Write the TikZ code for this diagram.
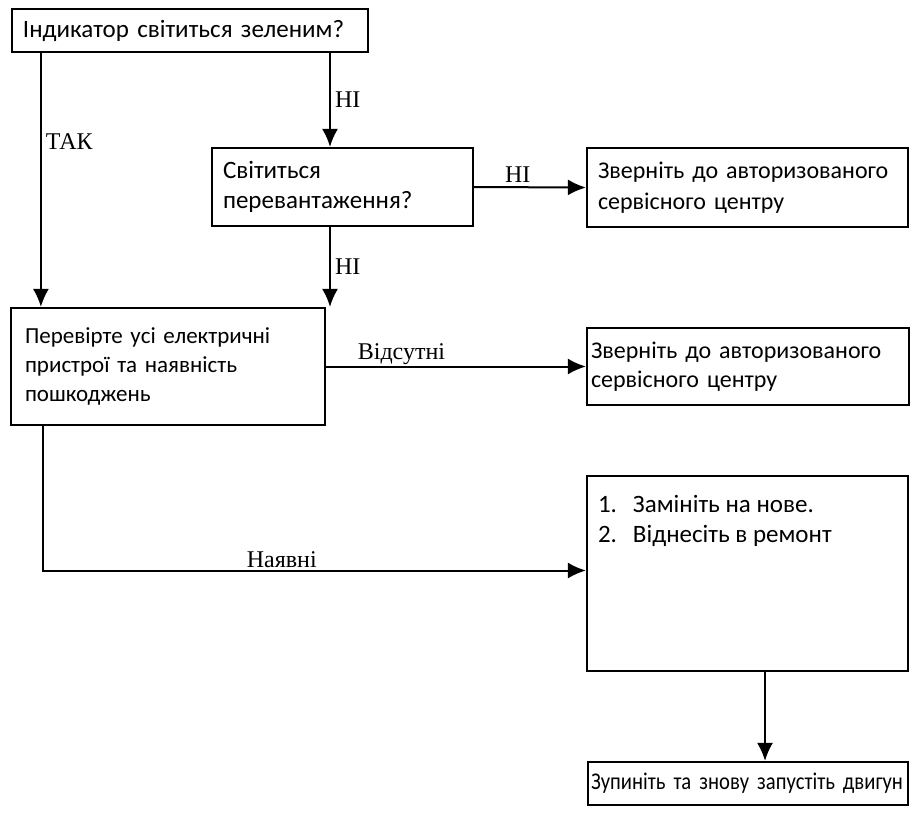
\documentclass[tikz,border=0pt]{standalone}
\usepackage{fontspec}
\setmainfont{Carlito}
\newfontfamily\labelfont{Liberation Serif}
\newfontfamily\narrowfont{Carlito}[FakeStretch=0.86]
\newfontfamily\chkfont{Carlito}[WordSpace=0.6]
\usepackage{tikz}
\usetikzlibrary{arrows.meta}
\tikzstyle{box} = [rectangle, draw=black, line width=2.2pt, inner xsep=11pt, align=left, font=\fontsize{25}{30}\selectfont]
\tikzstyle{lbl} = [font=\labelfont\fontsize{24}{28}\selectfont, inner sep=2pt]
\tikzstyle{arrow} = [line width=2pt,-{Latex[length=18pt,width=16pt]}]
\newlength\chkw

\begin{document}
\begin{tikzpicture}[x=1pt,y=1pt]
\useasboundingbox (0,0) rectangle (911,-815);

\node(ind)[box,text width=334pt,minimum height=43pt] at (190,-30.5) {Індикатор світиться зеленим?};
\node(over)[box,text width=239pt,minimum height=78pt] at (342.5,-187) {Світиться\\перевантаження?};
\node(svc1)[box,font=\fontsize{24}{31}\selectfont,text width=299pt,minimum height=79pt] at (747.5,-187.5) {Зверніть до авторизованого\\сервісного центру};
\node(check)[box,font=\chkfont\fontsize{23}{29}\selectfont,inner xsep=14pt,text width=286pt,minimum height=117pt] at (168,-366.5) {\settowidth{\chkw}{Перевірте усі електричні}Перевірте усі електричні\\\makebox[\chkw][s]{пристрої та наявність}\\пошкоджень};
\node(svc2)[box,font=\fontsize{24}{29}\selectfont,inner xsep=4pt,text width=314pt,minimum height=77pt] at (748,-366.5) {Зверніть до авторизованого\\сервісного центру};
\node(fix)[box,inner ysep=10pt] at (747.5,-573.5) {\parbox[c][175pt][t]{299pt}{\vspace*{9pt}\makebox[35pt][l]{1.}Замініть на нове.\\\makebox[35pt][l]{2.}Віднесіть в ремонт}};
\node(stop)[box,font=\narrowfont\fontsize{24}{30}\selectfont,inner xsep=3pt,text width=314pt,minimum height=43pt] at (748,-783.5) {Зупиніть та знову запустіть двигун};

\coordinate (tk) at ([xshift=30pt]ind.south west);
\coordinate (ni) at ([xshift=-12.5pt]over.north);
\coordinate (nb) at ([xshift=-12.5pt]over.south);
\coordinate (cs) at ([xshift=33pt]check.south west);
\coordinate (fs) at ([xshift=17.5pt]fix.south);

\draw [arrow] (tk) -- node[lbl,anchor=west,pos=0.35,xshift=2pt]{ТАК} (tk |- check.north);
\draw [arrow] (ind.south -| ni) -- node[lbl,anchor=west,xshift=2pt]{НІ} (ni);
\draw [arrow] (over.east) -- node[lbl,anchor=base,pos=0.39,yshift=5pt]{НІ} (svc1.west);
\draw [arrow] (nb) -- node[lbl,anchor=west,xshift=2pt]{НІ} (nb |- check.north);
\draw [arrow] (check.east) -- node[lbl,anchor=base,pos=0.29,yshift=7pt]{Відсутні} (svc2.west);
\draw [arrow] (cs) |- node[lbl,anchor=base,pos=0.72,yshift=3pt]{Наявні} ([yshift=3pt]fix.west);
\draw [arrow] (fs) -- (fs |- stop.north);
\end{tikzpicture}
\end{document}
